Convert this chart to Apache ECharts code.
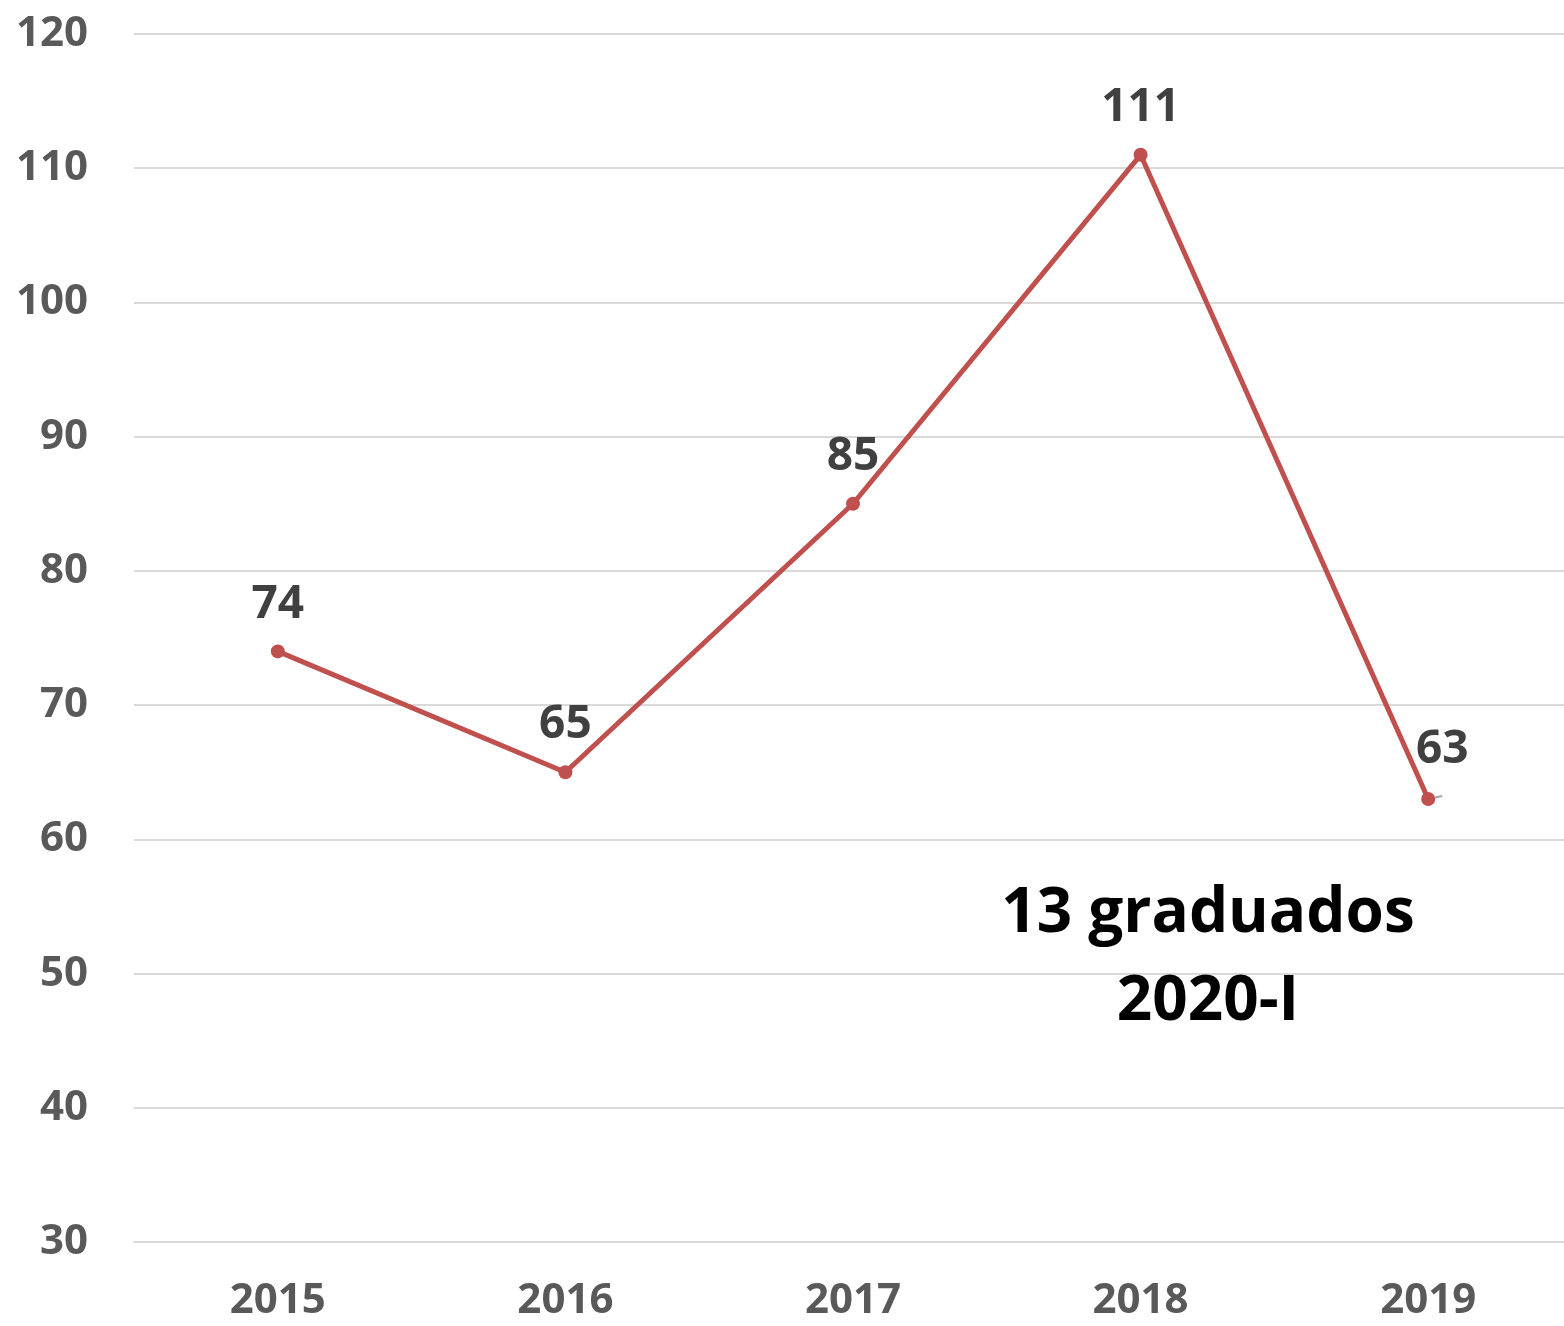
<!DOCTYPE html>
<html>
<head>
<meta charset="utf-8">
<title>Graduados</title>
<script src="https://cdn.jsdelivr.net/npm/echarts@6/dist/echarts.min.js"></script>
<style>
  html, body { margin: 0; padding: 0; background: #fff; }
  #chart { width: 1564px; height: 1326px; }
</style>
</head>
<body>
<div id="chart"></div>
<script>
// chart data
var years = ['2015', '2016', '2017', '2018', '2019'];
var graduados = [74, 65, 85, 111, 63];
var yMin = 30;
var yMax = 120;
var yStep = 10;
var note = ['13 graduados', '2020-I'];

var FONT = '"Open Sans", "DejaVu Sans", sans-serif';

var myChart = echarts.init(document.getElementById('chart'));

var points = graduados.map(function (v, i) {
  var item = { value: v };
  // last label sits up and to the right, with a small leader line
  if (i === graduados.length - 1) {
    item.label = { offset: [14, -2] };
    item.labelLine = { show: true, lineStyle: { color: '#a6a6a6', width: 2 } };
  }
  return item;
});

var option = {
  animation: false,
  grid: { left: 134, right: -8, top: 34, bottom: 84, outerBoundsMode: 'none' },
  xAxis: {
    type: 'category',
    data: years,
    boundaryGap: true,
    axisLine: { show: true, lineStyle: { color: '#d9d9d9', width: 2 } },
    axisTick: { show: false },
    axisLabel: {
      margin: 38,
      color: '#595959',
      fontFamily: FONT,
      fontWeight: 'bold',
      fontSize: 42
    }
  },
  yAxis: {
    type: 'value',
    min: yMin,
    max: yMax,
    interval: yStep,
    axisLine: { show: false },
    axisTick: { show: false },
    splitLine: { lineStyle: { color: '#d9d9d9', width: 2 } },
    axisLabel: {
      margin: 46,
      color: '#595959',
      fontFamily: FONT,
      fontWeight: 'bold',
      fontSize: 42
    }
  },
  series: [
    {
      name: 'Graduados',
      type: 'line',
      data: points,
      symbol: 'circle',
      symbolSize: 14,
      lineStyle: { color: '#c0504d', width: 5 },
      itemStyle: { color: '#c0504d' },
      label: {
        show: true,
        position: 'top',
        distance: 17,
        color: '#404040',
        fontFamily: FONT,
        fontWeight: 'bold',
        fontSize: 46
      }
    }
  ],
  graphic: [
    {
      type: 'text',
      x: 1208,
      y: 870,
      z: 100,
      style: {
        text: note.join('\n'),
        fill: '#000',
        font: 'bold 62px ' + FONT,
        textAlign: 'center',
        lineHeight: 88
      }
    }
  ]
};

myChart.setOption(option, true);
</script>
</body>
</html>
